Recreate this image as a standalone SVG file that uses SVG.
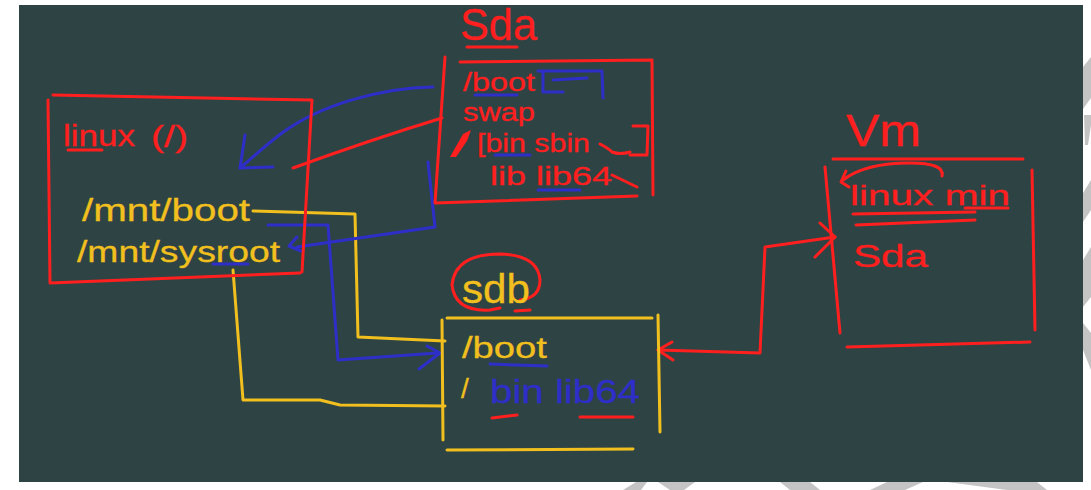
<svg xmlns="http://www.w3.org/2000/svg" width="1091" height="490" viewBox="0 0 1091 490">
<style>
.s{fill:none;stroke-width:3;stroke-linecap:round;stroke-linejoin:round}
.r{stroke:#ff1f1f}
.y{stroke:#f2c01e}
.b{stroke:#2e2ec8}
.t{font-family:"Liberation Sans",Arial,sans-serif;stroke-width:0.3}
.tr{fill:#ff1f1f;stroke:#ff1f1f}
.ty{fill:#f2c01e;stroke:#f2c01e}
.tb{fill:#2e2ec8;stroke:#2e2ec8}
.wm{fill:#c4c4c4}
</style>
<rect x="0" y="0" width="1091" height="490" fill="#ffffff"/>
<rect x="19" y="5" width="1064" height="477" fill="#2e4444"/>
<g id="watermark">
<polygon class="wm" points="1091,57 1083,67 1083,109 1091,98"/>
<polygon class="wm" points="1084,115 1091,115 1091,125 1088,145 1085,145"/>
<polygon class="wm" points="1091,180 1083,193 1083,222 1091,210"/>
<polygon class="wm" points="1091,247 1083,260 1083,307 1091,297"/>
<polygon class="wm" points="1083,323 1091,333 1091,370 1083,350"/>
<polygon class="wm" points="636,482 647,482 641,490 623,490"/>
<polygon class="wm" points="658,482 695,482 684,490 670,490"/>
<polygon class="wm" points="780,482 810,482 820,490 790,490"/>
<polygon class="wm" points="887,482 923,482 905,490 870,490"/>
<polygon class="wm" points="947,482 1037,482 1047,490 1007,490"/>
</g>
<g id="connectors">
<path class="s y" d="M253,211 L355,214 L358,337 L445,341"/>
<path class="s y" d="M233,270 L243,400 L320,400 L340,405 L445,406"/>
<path class="s b" d="M433,87 C380,88 320,105 282,133 C262,148 250,160 240,168"/>
<path class="s b" d="M245,135 L240,168 L273,167"/>
<path class="s r" d="M293,168 Q370,140 442,118"/>
<path class="s b" d="M428,162 L435,227 L297,247"/>
<path class="s b" d="M297,237 L289,246 L301,251"/>
<path class="s b" d="M268,225 L328,225 L338,360 L438,353"/>
<path class="s b" d="M427,346 L440,353 L419,369"/>
<path class="s r" d="M658,350 L760,353 L765,247 L835,237"/>
<path class="s r" d="M672,342 L658,350 L673,360"/>
<path class="s r" d="M820,223 L835,237 L815,257"/>
</g>
<g id="linux">
<path class="s r" d="M53,95 L312,100 M48,100 L50,283 L300,273 M312,100 L302,272"/>
<text class="t tr" x="63" y="146" font-size="30" textLength="72" lengthAdjust="spacingAndGlyphs">linux</text>
<path class="s r" d="M68,150 L102,150"/>
<text class="t tr" x="151" y="147" font-size="30" textLength="37" lengthAdjust="spacingAndGlyphs">(/)</text>
<text class="t ty" x="82" y="221" font-size="32" textLength="168" lengthAdjust="spacingAndGlyphs">/mnt/boot</text>
<text class="t ty" x="77" y="262" font-size="30" textLength="203" lengthAdjust="spacingAndGlyphs">/mnt/sysroot</text>
<path class="s b" d="M213,264 L248,264"/>
</g>
<g id="sda">
<text class="t tr" x="460" y="40" font-size="44" textLength="77" lengthAdjust="spacingAndGlyphs">Sda</text>
<path class="s r" d="M467,47 L517,47"/>
<path class="s r" d="M460,62 L652,60 M445,57 L435,203 L637,196 M652,60 L653,195"/>
<text class="t tr" x="463" y="91" font-size="26" textLength="72" lengthAdjust="spacingAndGlyphs">/boot</text>
<path class="s b" d="M475,95 L517,95"/>
<path class="s b" d="M538,71 L602,71 M543,72 L543,92 L563,92 M553,80 L587,78 M602,71 L603,98"/>
<text class="t tr" x="463" y="121" font-size="26" textLength="72" lengthAdjust="spacingAndGlyphs">swap</text>
<path d="M450,157 L463,134 L471,130 L467,141 L456,157 Z" fill="#ff1f1f"/>
<text class="t tr" x="477" y="152" font-size="26" textLength="113" lengthAdjust="spacingAndGlyphs">[bin sbin</text>
<path class="s b" d="M495,155 L530,155"/>
<path class="s r" d="M600,144 Q608,148 612,152 Q620,155 630,152"/>
<path class="s r" d="M633,126 L648,126 L647,155 L630,155"/>
<text class="t tr" x="490" y="185" font-size="26" textLength="122" lengthAdjust="spacingAndGlyphs">lib lib64</text>
<path class="s b" d="M538,190 L580,190"/>
<path class="s r" d="M612,175 L637,187"/>
</g>
<g id="sdb">
<path class="s r" d="M520,300 Q540,298 540,280 Q538,255 500,254 Q455,254 452,285 Q455,312 490,310 L500,308"/>
<text class="t ty" x="462" y="303" font-size="40" textLength="68" lengthAdjust="spacingAndGlyphs">sdb</text>
<path class="s r" d="M515,311 L530,310"/>
<path class="s y" d="M447,318 L652,318 M442,320 L443,440 M658,315 L660,432 M447,450 L633,449"/>
<text class="t ty" x="462" y="358" font-size="30" textLength="85" lengthAdjust="spacingAndGlyphs">/boot</text>
<path class="s b" d="M490,364 L547,366"/>
<text class="t ty" x="461" y="398" font-size="28">/</text>
<text class="t tb" x="490" y="403" font-size="34" textLength="150" lengthAdjust="spacingAndGlyphs">bin lib64</text>
<path class="s r" d="M492,418 L517,415 M580,417 L633,417"/>
</g>
<g id="vm">
<text class="t tr" x="846" y="146" font-size="44" textLength="75" lengthAdjust="spacingAndGlyphs">Vm</text>
<path class="s r" d="M833,159 L1023,159 M825,167 L840,333 M1032,170 L1035,330 M847,347 L1030,342"/>
<path class="s r" d="M942,176 Q945,163 910,163 Q865,163 843,180"/>
<path class="s r" d="M846,171 L841,182 L849,187"/>
<text class="t tr" x="850" y="205" font-size="28" textLength="160" lengthAdjust="spacingAndGlyphs">linux min</text>
<path class="s r" d="M853,214 L975,212 M856,225 L975,220 M965,208 L1008,208"/>
<text class="t tr" x="853" y="267" font-size="32" textLength="75" lengthAdjust="spacingAndGlyphs">Sda</text>
</g>
</svg>
